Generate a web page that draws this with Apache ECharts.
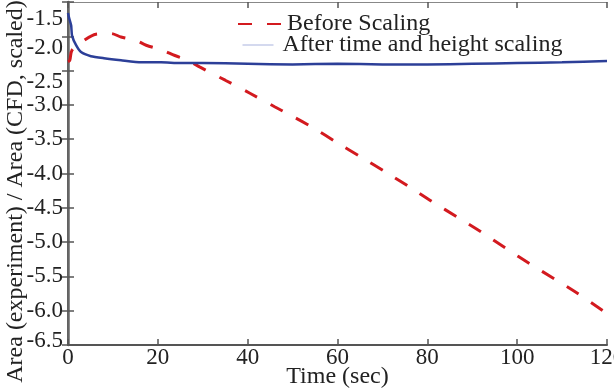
<!DOCTYPE html>
<html>
<head>
<meta charset="utf-8">
<script src="https://cdn.jsdelivr.net/npm/echarts@6/dist/echarts.min.js"></script>
<style>html,body{margin:0;padding:0;background:#fff}#c{width:614px;height:388px}</style>
</head>
<body>
<div id="c"></div>
<script>
// Data
const xTicks = [0, 20, 40, 60, 80, 100, 120];
const yTicks = [-6.5, -6.0, -5.5, -5.0, -4.5, -4.0, -3.5, -3.0, -2.5, -2.0, -1.5];
const seriesNames = ['Before Scaling', 'After time and height scaling'];

const beforeT = [0, 0.4, 0.9, 3.6, 6.2, 9.6, 11.8, 15.1, 17.4, 20.9, 23.8, 26.7, 29.4, 35.0, 40.5, 46.1, 54.5, 59.9, 65.5, 71.0, 76.1, 81.3, 86.8, 92.2, 97.7, 102.9, 108.4, 113.5, 119.1, 120];
const beforeV = [-2.37, -2.35, -2.20, -2.06, -1.97, -1.96, -2.01, -2.06, -2.13, -2.20, -2.28, -2.35, -2.45, -2.64, -2.83, -3.03, -3.33, -3.55, -3.77, -3.99, -4.20, -4.42, -4.64, -4.86, -5.10, -5.32, -5.54, -5.75, -6.00, -6.04];

const afterT = [0, 0.2, 0.7, 0.9, 1.8, 2.9, 5.1, 8.0, 11.8, 16.3, 20.7, 25, 30, 40, 50, 60, 70, 80, 90, 100, 110, 120];
const afterV = [-1.66, -1.72, -1.84, -1.99, -2.13, -2.23, -2.29, -2.32, -2.35, -2.38, -2.38, -2.39, -2.39, -2.40, -2.41, -2.40, -2.41, -2.41, -2.40, -2.39, -2.38, -2.36];

const pairs = (t, v) => t.map((x, i) => [x, v[i]]);
const font = "'Liberation Serif', serif";
const axisColor = '#555';
const tickFont = 23;
const nameFont = 24;

// per-label vertical offsets (padding top/bottom) to mimic the original label placement
const labelPad = { '-1.5': [34, 0], '-2.0': [24, 0], '-2.5': [22, 0], '-6.5': [0, 8] };
const rich = {};
Object.keys(labelPad).forEach((k, i) => {
  rich['s' + i] = { fontFamily: font, fontSize: tickFont, color: '#222', padding: [labelPad[k][0], 0, labelPad[k][1], 0] };
});

const chart = echarts.init(document.getElementById('c'));
chart.setOption({
  animation: false,
  backgroundColor: '#fff',
  grid: { left: 68, right: 7, top: 2, bottom: 43, containLabel: false, outerBoundsMode: 'none' },
  legend: [
    {
      data: [{ name: seriesNames[0] }],
      left: 232, top: 7, itemWidth: 43, itemHeight: 14, itemGap: 0,
      itemStyle: { opacity: 0 },
      textStyle: { fontFamily: font, fontSize: nameFont, color: '#222', padding: [0, 0, 0, 1] }
    },
    {
      data: [{ name: seriesNames[1], lineStyle: { color: '#a9b3de', width: 1 } }],
      left: 237, top: 28, itemWidth: 31, itemHeight: 14, itemGap: 0,
      itemStyle: { opacity: 0 },
      textStyle: { fontFamily: font, fontSize: nameFont, color: '#222', padding: [0, 0, 0, 4] }
    }
  ],
  xAxis: [
    {
      type: 'value', min: 0, max: 120, interval: 20,
      name: 'Time (sec)', nameLocation: 'middle', nameGap: 20, nameMoveOverlap: false,
      nameTextStyle: { fontFamily: font, fontSize: nameFont, color: '#222' },
      axisLine: { lineStyle: { color: axisColor, width: 2 } },
      axisTick: { inside: true, length: 6, lineStyle: { color: axisColor, width: 1.5 } },
      axisLabel: { fontFamily: font, fontSize: tickFont, color: '#222', margin: 1,
        formatter: v => xTicks.includes(v) ? String(v) : '' },
      splitLine: { show: false }
    },
    {
      type: 'value', min: 0, max: 120, interval: 20, position: 'top',
      axisLine: { lineStyle: { color: '#888', width: 1 } },
      axisTick: { inside: true, length: 6, lineStyle: { color: axisColor, width: 1.5 } },
      axisLabel: { show: false }, splitLine: { show: false }
    }
  ],
  yAxis: [
    {
      type: 'value', min: -6.5, max: -1.5, interval: 0.5,
      name: 'Area (experiment) / Area (CFD, scaled)', nameLocation: 'middle', nameGap: 40, nameMoveOverlap: false,
      nameTextStyle: { fontFamily: font, fontSize: nameFont, color: '#222', padding: [0, 36, 0, 0] },
      axisLine: { lineStyle: { color: axisColor, width: 2 } },
      axisTick: { inside: true, length: 6, lineStyle: { color: axisColor, width: 1.5 } },
      axisLabel: {
        fontFamily: font, fontSize: tickFont, color: '#222', margin: 5,
        formatter: v => {
          const s = v.toFixed(1);
          if (!yTicks.includes(Number(s))) return '';
          const keys = Object.keys(labelPad);
          const idx = keys.indexOf(s);
          return idx >= 0 ? '{s' + idx + '|' + s + '}' : s;
        },
        rich: rich
      },
      splitLine: { show: false }
    },
    {
      type: 'value', min: -6.5, max: -1.5, interval: 0.5, position: 'right',
      axisLine: { lineStyle: { color: '#666', width: 2.5 } },
      axisTick: { inside: true, length: 6, lineStyle: { color: axisColor, width: 1.5 } },
      axisLabel: { show: false }, splitLine: { show: false }
    }
  ],
  series: [
    {
      name: seriesNames[0], type: 'line', xAxisIndex: 0, yAxisIndex: 0,
      data: pairs(beforeT, beforeV), symbol: 'none', smooth: 0.3,
      lineStyle: { color: '#d31a1f', width: 3, type: [14, 15] },
      itemStyle: { color: '#d31a1f' }
    },
    {
      name: seriesNames[1], type: 'line', xAxisIndex: 0, yAxisIndex: 0,
      data: pairs(afterT, afterV), symbol: 'none', smooth: 0.2,
      lineStyle: { color: '#2c3f98', width: 2.5 },
      itemStyle: { color: '#2c3f98' }
    }
  ]
});
</script>
</body>
</html>
